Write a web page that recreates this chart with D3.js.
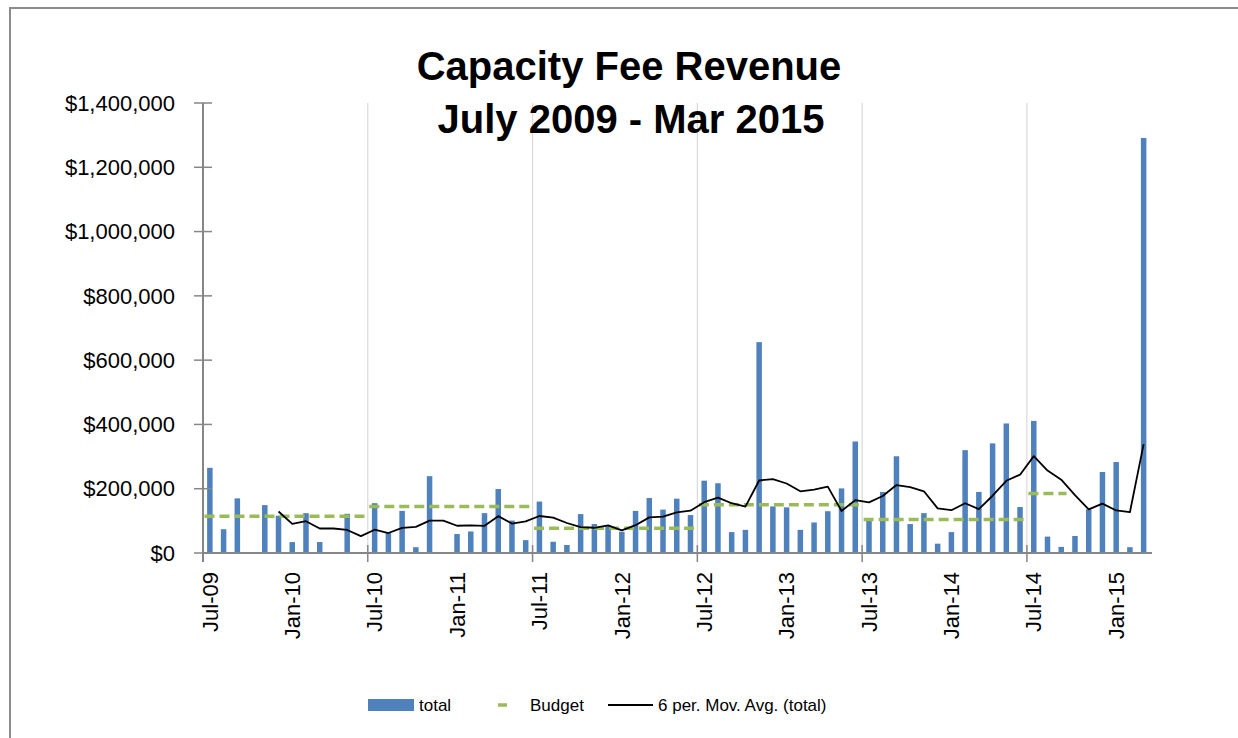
<!DOCTYPE html>
<html>
<head>
<meta charset="utf-8">
<script src="https://cdn.jsdelivr.net/npm/d3@7"></script>
<style>
  body { margin: 0; background: #fff; }
  text { font-family: "Liberation Sans", Arial, sans-serif; fill: #000; }
</style>
</head>
<body>
<div id="chart"></div>
<script>
// monthly capacity fee revenue, Jul-09 .. Mar-15 (0 = no receipts that month)
var total = [
  265000, 74000, 170000, 0, 149000, 116000,             // Jul-09 .. Dec-09
  34000, 124000, 34000, 0, 122000, 0,                   // Jan-10 .. Jun-10
  155000, 62000, 131000, 18000, 239000, 0,              // Jul-10 .. Dec-10
  59000, 67000, 124000, 199000, 101000, 40000,          // Jan-11 .. Jun-11
  160000, 35000, 25000, 121000, 90000, 86000,           // Jul-11 .. Dec-11
  66000, 131000, 171000, 135000, 169000, 118000,        // Jan-12 .. Jun-12
  225000, 217000, 65000, 72000, 656000, 145000,         // Jul-12 .. Dec-12
  142000, 72000, 95000, 130000, 201000, 347000,         // Jan-13 .. Jun-13
  100000, 190000, 301000, 90000, 124000, 29000,         // Jul-13 .. Dec-13
  65000, 320000, 190000, 341000, 403000, 143000,        // Jan-14 .. Jun-14
  411000, 51000, 19000, 53000, 136000, 252000,          // Jul-14 .. Dec-14
  283000, 18000, 1291000                                // Jan-15 .. Mar-15
];

// budget per fiscal year (flat line over the months it covers)
var budgetYears  = ["FY10", "FY11", "FY12", "FY13", "FY14", "FY15"];
var budgetValues = [114000, 145000, 77000, 150000, 104000, 185000];
var budgetFirst  = [0, 12, 24, 36, 48, 60];   // month index where each budget starts
var budgetLength = [12, 12, 12, 12, 12, 3];

var tickLabels = ["Jul-09", "Jan-10", "Jul-10", "Jan-11", "Jul-11", "Jan-12", "Jul-12",
                  "Jan-13", "Jul-13", "Jan-14", "Jul-14", "Jan-15"];
var yTicks = [0, 200000, 400000, 600000, 800000, 1000000, 1200000, 1400000];

var maPeriod = 6;

var W = 1238, H = 738;
var plot = { left: 203, right: 1150.5, top: 103, bottom: 553 };

var svg = d3.select('#chart').append('svg')
    .attr('width', W)
    .attr('height', H);

// chart frame (runs off the right / bottom of the picture)
svg.append('rect')
    .attr('x', 10).attr('y', 8)
    .attr('width', 1260).attr('height', 760)
    .attr('fill', 'none')
    .attr('stroke', '#8c8c8c')
    .attr('stroke-width', 2);

// months as categories
var months = d3.timeMonth.range(new Date(2009, 6, 1), new Date(2015, 3, 1));
var fmtMonth = d3.timeFormat('%b-%y');

var x = d3.scaleBand()
    .domain(d3.range(total.length))
    .range([plot.left, plot.right])
    .padding(0);

var y = d3.scaleLinear()
    .domain([0, 1400000])
    .range([plot.bottom, plot.top]);

var bw = x.bandwidth();

// vertical gridlines at every July
var julyIdx = months.map(function(d, i){ return d.getMonth() === 6 ? i : -1; })
    .filter(function(i){ return i > 0; });

svg.append('g')
    .selectAll('line')
    .data(julyIdx)
    .enter().append('line')
    .attr('x1', function(d){ return x(d); })
    .attr('x2', function(d){ return x(d); })
    .attr('y1', plot.top)
    .attr('y2', plot.bottom)
    .attr('stroke', '#d9d9d9')
    .attr('stroke-width', 1.2);

// bars
var barW = 5.5;
svg.append('g')
    .selectAll('rect')
    .data(total)
    .enter().append('rect')
    .attr('x', function(d, i){ return x(i) + bw / 2 - barW / 2; })
    .attr('y', function(d){ return y(d); })
    .attr('width', barW)
    .attr('height', function(d){ return y(0) - y(d); })
    .attr('fill', '#4f81bd');

// budget dashes
svg.append('g')
    .selectAll('line')
    .data(budgetYears)
    .enter().append('line')
    .attr('x1', function(d, i){ return x(budgetFirst[i]) + 1.5; })
    .attr('x2', function(d, i){ return x(budgetFirst[i] + budgetLength[i] - 1) + bw - 1.5; })
    .attr('y1', function(d, i){ return y(budgetValues[i]); })
    .attr('y2', function(d, i){ return y(budgetValues[i]); })
    .attr('stroke', '#9bbb59')
    .attr('stroke-width', 3.5)
    .attr('stroke-dasharray', '10,5');

// 6 period moving average (Excel trendline)
var ma = total.map(function(d, i){
    if (i < maPeriod - 1) return null;
    return d3.mean(total.slice(i - maPeriod + 1, i + 1));
});

var line = d3.line()
    .defined(function(d){ return d !== null; })
    .x(function(d, i){ return x(i) + bw / 2; })
    .y(function(d){ return y(d); });

svg.append('path')
    .datum(ma)
    .attr('d', line)
    .attr('fill', 'none')
    .attr('stroke', '#000')
    .attr('stroke-width', 1.8)
    .attr('stroke-linejoin', 'round');

// y axis
var yAxis = svg.append('g');
yAxis.append('line')
    .attr('x1', plot.left).attr('x2', plot.left)
    .attr('y1', plot.top).attr('y2', plot.bottom + 9)
    .attr('stroke', '#868686').attr('stroke-width', 2);
yAxis.selectAll('.tk')
    .data(yTicks)
    .enter().append('line')
    .attr('x1', plot.left - 9).attr('x2', plot.left + 9)
    .attr('y1', function(d){ return y(d); })
    .attr('y2', function(d){ return y(d); })
    .attr('stroke', '#868686').attr('stroke-width', 1.5);
yAxis.selectAll('text')
    .data(yTicks)
    .enter().append('text')
    .attr('x', 175)
    .attr('y', function(d){ return y(d); })
    .attr('dy', '0.35em')
    .attr('text-anchor', 'end')
    .style('font-size', '22px')
    .text(d3.format('$,'));

// x axis
var xAxis = svg.append('g');
xAxis.append('line')
    .attr('x1', plot.left).attr('x2', plot.right + 1.5)
    .attr('y1', plot.bottom).attr('y2', plot.bottom)
    .attr('stroke', '#868686').attr('stroke-width', 2);
xAxis.selectAll('.tk')
    .data(julyIdx)
    .enter().append('line')
    .attr('x1', function(d){ return x(d); })
    .attr('x2', function(d){ return x(d); })
    .attr('y1', plot.bottom - 8).attr('y2', plot.bottom + 9)
    .attr('stroke', '#868686').attr('stroke-width', 1.5);

var labelled = months.map(function(d, i){ return i; })
    .filter(function(i){ return tickLabels.indexOf(fmtMonth(months[i])) >= 0; });

xAxis.selectAll('text')
    .data(labelled)
    .enter().append('text')
    .attr('transform', function(i){
        return 'translate(' + (x(i) + bw / 2) + ',572) rotate(-90)';
    })
    .attr('dy', '0.35em')
    .attr('text-anchor', 'end')
    .style('font-size', '22px')
    .text(function(i){ return fmtMonth(months[i]); });

// title
var title = svg.append('text')
    .attr('text-anchor', 'middle')
    .style('font-size', '40px')
    .style('font-weight', 'bold');
title.append('tspan').attr('x', 629).attr('y', 80).text('Capacity Fee Revenue');
title.append('tspan').attr('x', 631).attr('y', 133).text('July 2009 - Mar 2015');

// legend
var lg = svg.append('g').style('font-size', '17px');
lg.append('rect')
    .attr('x', 368).attr('y', 699).attr('width', 46).attr('height', 12)
    .attr('fill', '#4f81bd');
lg.append('text').attr('x', 419).attr('y', 705).attr('dy', '0.35em').text('total');
lg.append('line')
    .attr('x1', 498).attr('x2', 507).attr('y1', 705).attr('y2', 705)
    .attr('stroke', '#9bbb59').attr('stroke-width', 3.5);
lg.append('text').attr('x', 530).attr('y', 705).attr('dy', '0.35em').text('Budget');
lg.append('line')
    .attr('x1', 608).attr('x2', 653).attr('y1', 705).attr('y2', 705)
    .attr('stroke', '#000').attr('stroke-width', 1.8);
lg.append('text').attr('x', 658).attr('y', 705).attr('dy', '0.35em').text('6 per. Mov. Avg. (total)');
</script>
</body>
</html>
